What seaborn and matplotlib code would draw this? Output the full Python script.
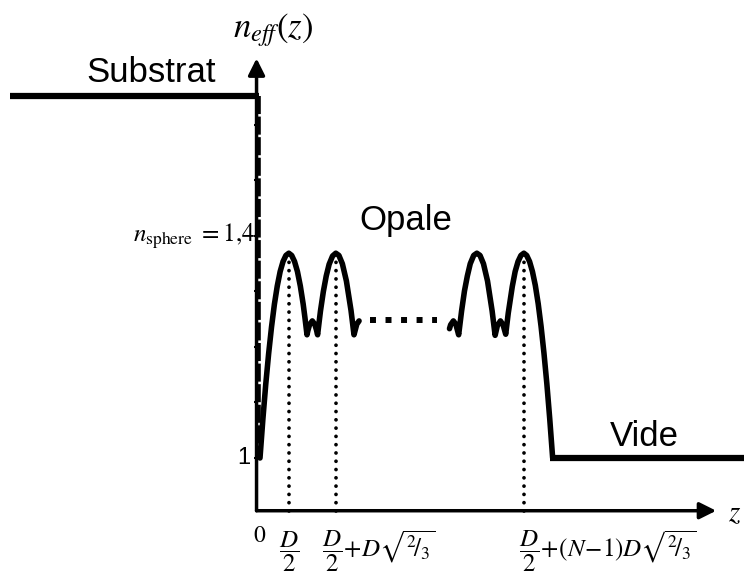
import numpy as np
import pandas as pd
import matplotlib
matplotlib.use("Agg")
import matplotlib.pyplot as plt
import seaborn as sns

# profil d'indice effectif n_eff(z), z en unites de D (diametre des spheres)
# premier bloc : spheres 1 et 2 (+ debut de la 3e)
z_debut = [0.0, 0.05, 0.1, 0.15, 0.2, 0.25, 0.3, 0.35, 0.4, 0.45, 0.5, 0.55, 0.6, 0.65,
           0.7, 0.75, 0.78, 0.816, 0.83, 0.86, 0.908, 0.95, 0.98, 1.0, 1.03, 1.05, 1.1,
           1.15, 1.2, 1.26, 1.316, 1.37, 1.43, 1.5, 1.58, 1.632, 1.68, 1.72]
n_debut = [1.000, 1.070, 1.133, 1.188, 1.236, 1.277, 1.310, 1.336, 1.354, 1.365, 1.369,
           1.365, 1.354, 1.336, 1.310, 1.277, 1.253, 1.222, 1.229, 1.240, 1.247, 1.241,
           1.231, 1.222, 1.248, 1.265, 1.300, 1.328, 1.349, 1.364, 1.369, 1.365, 1.350,
           1.319, 1.266, 1.222, 1.241, 1.247]

# dernier bloc : spheres N-1 et N puis retour au vide
z_fin = [3.29, 3.31, 3.357, 3.40, 3.449, 3.5, 3.55, 3.6, 3.65, 3.71, 3.765, 3.82, 3.88,
         3.95, 4.03, 4.082, 4.12, 4.174, 4.22, 4.266, 4.31, 4.38, 4.43, 4.48, 4.53, 4.581,
         4.63, 4.68, 4.73, 4.78, 4.83, 4.88, 4.93, 4.98, 5.03, 5.081]
n_fin = [1.233, 1.240, 1.247, 1.241, 1.222, 1.265, 1.301, 1.328, 1.350, 1.365, 1.369,
         1.365, 1.350, 1.319, 1.265, 1.221, 1.238, 1.247, 1.240, 1.223, 1.261, 1.309,
         1.336, 1.354, 1.365, 1.369, 1.365, 1.354, 1.336, 1.311, 1.278, 1.237, 1.189,
         1.134, 1.071, 1.000]

# couches pointillees (spheres intermediaires)
z_milieu = [1.91, 3.07]
n_milieu = 1.249

# milieux extremes
z_substrat = [-4.34, -0.02]
n_substrat = 1.652
z_vide = [5.03, 8.45]
n_vide = 1.0

# centres des spheres reperes sur l'axe
z_centres = [0.5, 1.316, 4.581]
n_haut_reperes = 1.36

n_graduations = [1.0, 1.1, 1.2, 1.3, 1.4, 1.5, 1.6]
labels_z = [r'$\dfrac{D}{2}$',
            r'$\dfrac{D}{2}\!+\!D\sqrt{^{2}\!/_{3}}$',
            r'$\dfrac{D}{2}\!+\!(N\!-\!1)D\sqrt{^{2}\!/_{3}}$']
pos_labels_z = [0.5, 1.07, 4.49]

sns.set_theme(style="white")
plt.rcParams['font.family'] = ['Liberation Sans', 'DejaVu Sans']
plt.rcParams['mathtext.fontset'] = 'stix'
plt.rcParams['text.color'] = 'black'

fig = plt.figure(figsize=(7.44, 5.75), dpi=100)
ax = fig.add_axes([0, 0, 1, 1])
ax.set_xlim(-4.514, 8.403)
ax.set_ylim(0.7892, 1.8252)
ax.axis('off')

z_axe = -0.06
n_axe = 0.905

# axes avec fleches
fleche = dict(arrowstyle='-|>,head_length=0.5,head_width=0.25', color='black', lw=2.5,
              mutation_scale=20, shrinkA=0, shrinkB=0)
ax.annotate('', xy=(z_axe, 1.72), xytext=(z_axe, n_axe), arrowprops=fleche)
ax.annotate('', xy=(7.92, n_axe), xytext=(z_axe, n_axe), arrowprops=fleche)
ax.hlines(n_graduations, z_axe - 0.05, z_axe, color='black', lw=1.5)

# reperes verticaux pointilles
ax.vlines(z_centres, n_axe, n_haut_reperes, color='black', lw=2.7,
          linestyles=[(0, (0.01, 2.2))], capstyle='round')

# substrat et vide
ax.plot(z_substrat, [n_substrat] * 2, color='black', lw=4.5, solid_capstyle='butt')
ax.plot([z_substrat[1]] * 2, [n_substrat, n_vide], color='black', lw=2.6,
        linestyle=(0, (5, 0.7)))
ax.plot(z_vide, [n_vide] * 2, color='black', lw=4.5, solid_capstyle='butt')

# profil de l'opale
profil = pd.concat([
    pd.DataFrame({'z': z_debut, 'n': n_debut, 'bloc': 'debut'}),
    pd.DataFrame({'z': z_fin, 'n': n_fin, 'bloc': 'fin'}),
])
sns.lineplot(data=profil, x='z', y='n', units='bloc', estimator=None, sort=False,
             color='black', lw=4.0, ax=ax, legend=False,
             solid_capstyle='round', solid_joinstyle='round')
ax.plot(z_milieu, [n_milieu] * 2, color='black', lw=4.3, linestyle=(0, (1, 1.6)),
        dash_capstyle='butt')

# textes
ax.text(-1.89, 1.677, 'Substrat', fontsize=25, ha='center', va='baseline')
ax.text(2.53, 1.411, 'Opale', fontsize=25, ha='center', va='baseline')
ax.text(6.67, 1.0216, 'Vide', fontsize=25, ha='center', va='baseline')
ax.text(0.22, 1.771, r'$n_{eff}(z)$', fontsize=25, ha='center', va='center')
ax.text(8.13, 0.901, r'$z$', fontsize=21, ha='left', va='center')
ax.text(-0.16, 1.0, '1', fontsize=17, ha='right', va='center')
ax.text(-0.08, 1.4, r'$n_{\mathrm{sphere}}\ =1{,}4$', fontsize=18, ha='right', va='center')
ax.text(0.0, 0.859, r'$0$', fontsize=17, ha='center', va='center')
for pos, lab in zip(pos_labels_z, labels_z):
    ax.text(pos, 0.832, lab, fontsize=18, ha='center' if pos == 0.5 else 'left', va='center')

fig.savefig('out.png', dpi=100)
